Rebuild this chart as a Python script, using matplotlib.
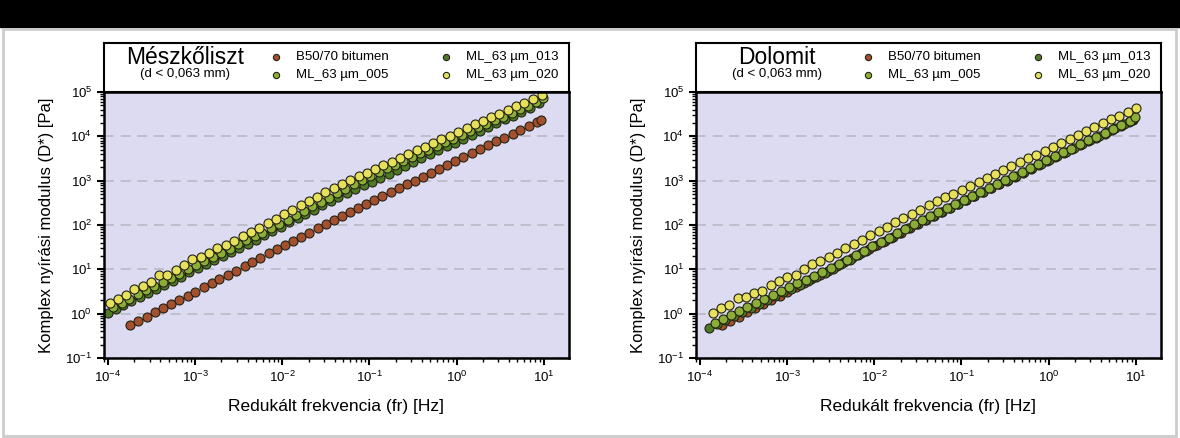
import matplotlib
matplotlib.use('Agg')
from matplotlib import pyplot as plt
from matplotlib.patches import Rectangle

plt.rcParams['font.family'] = ['Liberation Sans', 'DejaVu Sans']
plt.rcParams['mathtext.default'] = 'regular'

# ---- data (frekvencia [Hz], D* [Pa]) ----
# B50/70 bitumen (ugyanaz a minta mindket panelen)
f_bit = [1.8e-4, 2.2e-4, 2.8e-4, 3.5e-4, 4.3e-4, 5.3e-4, 6.6e-4, 8.2e-4, 1.0e-3, 1.25e-3,
         1.55e-3, 1.9e-3, 2.4e-3, 2.95e-3, 3.7e-3, 4.5e-3, 5.6e-3, 7.0e-3, 8.7e-3, 1.08e-2,
         1.34e-2, 1.66e-2, 2.05e-2, 2.55e-2, 3.15e-2, 3.9e-2, 4.85e-2, 6.0e-2, 7.4e-2, 9.2e-2,
         0.114, 0.141, 0.175, 0.217, 0.27, 0.33, 0.41, 0.51, 0.63, 0.78,
         0.97, 1.2, 1.49, 1.85, 2.3, 2.85, 3.5, 4.4, 5.4, 6.7, 8.3, 9.3]
d_bit = [0.55, 0.67, 0.85, 1.07, 1.32, 1.63, 2.04, 2.55, 3.1, 3.9,
         4.9, 6.0, 7.6, 9.4, 12.0, 14.4, 18.3, 22.8, 28.4, 35.3,
         43.8, 54.5, 67.6, 84, 104, 129, 161, 198, 242, 297,
         364, 445, 545, 668, 820, 1000, 1230, 1510, 1850, 2250,
         2760, 3380, 4150, 5100, 6250, 7650, 9300, 11500, 14000, 17200, 21000, 23500]

# Meszkoliszt
f_m020 = [1.05e-4, 1.3e-4, 1.6e-4, 2.0e-4, 2.5e-4, 3.1e-4, 3.9e-4, 4.8e-4, 6.0e-4, 7.5e-4,
          9.3e-4, 1.16e-3, 1.45e-3, 1.8e-3, 2.25e-3, 2.8e-3, 3.5e-3, 4.35e-3, 5.4e-3, 6.8e-3,
          8.4e-3, 1.05e-2, 1.3e-2, 1.62e-2, 2.0e-2, 2.5e-2, 3.1e-2, 3.9e-2, 4.8e-2, 6.0e-2,
          7.5e-2, 9.3e-2, 0.116, 0.144, 0.18, 0.224, 0.28, 0.35, 0.43, 0.54,
          0.67, 0.84, 1.04, 1.3, 1.62, 2.0, 2.5, 3.1, 3.9, 4.8, 6.0, 7.5, 9.6]
d_m020 = [1.74, 2.15, 2.65, 3.6, 4.1, 5.1, 7.3, 7.4, 9.8, 12.3,
          17, 19, 23.6, 31, 36, 43, 56, 69, 87, 111,
          138, 175, 219, 277, 345, 437, 547, 697, 850, 1030,
          1250, 1510, 1830, 2220, 2690, 3250, 3950, 4800, 5750, 7000,
          8500, 10300, 12500, 15200, 18500, 22300, 27000, 32500, 39500, 47500, 57500, 70000, 87000]

f_m005 = [1.15e-4, 1.43e-4, 1.76e-4, 2.2e-4, 2.75e-4, 3.4e-4, 4.3e-4, 5.3e-4, 6.6e-4, 8.2e-4,
          1.02e-3, 1.28e-3, 1.6e-3, 2.0e-3, 2.5e-3, 3.1e-3, 3.85e-3, 4.8e-3, 5.9e-3, 7.5e-3,
          9.2e-3, 1.15e-2, 1.43e-2, 1.78e-2, 2.2e-2, 2.75e-2, 3.4e-2, 4.3e-2, 5.3e-2, 6.6e-2,
          8.2e-2, 0.102, 0.128, 0.158, 0.198, 0.246, 0.31, 0.385, 0.47, 0.59,
          0.74, 0.92, 1.14, 1.43, 1.78, 2.2, 2.75, 3.4, 4.3, 5.3, 6.6, 8.2, 9.9]
d_m005 = [1.43, 1.76, 2.17, 2.71, 3.36, 4.18, 5.25, 6.48, 8.04, 10.1,
          12.5, 15.6, 19.4, 23.8, 29.5, 36.9, 45.9, 56.6, 66, 84,
          105, 133, 166, 211, 262, 332, 416, 530, 646, 824,
          1025, 1268, 1556, 1909, 2313, 2795, 3397, 4128, 4945, 6020,
          7310, 8858, 10750, 13070, 15910, 19180, 23220, 27950, 33970, 40850, 49450, 60000, 72000]

f_m013 = [1.0e-4, 1.22e-4, 1.5e-4, 1.85e-4, 2.3e-4, 2.85e-4, 3.6e-4, 4.45e-4, 5.5e-4, 6.9e-4,
          8.6e-4, 1.07e-3, 1.33e-3, 1.66e-3, 2.07e-3, 2.6e-3, 3.2e-3, 4.0e-3, 5.0e-3, 6.25e-3,
          7.7e-3, 9.7e-3, 1.2e-2, 1.5e-2, 1.84e-2, 2.3e-2, 2.85e-2, 3.6e-2, 4.4e-2, 5.5e-2,
          6.9e-2, 8.6e-2, 0.107, 0.132, 0.166, 0.206, 0.258, 0.32, 0.395, 0.5,
          0.62, 0.77, 0.96, 1.2, 1.49, 1.84, 2.3, 2.85, 3.6, 4.4, 5.5, 6.9, 8.8]
d_m013 = [1.01, 1.25, 1.54, 1.9, 2.36, 2.91, 3.65, 4.46, 5.54, 6.89,
          8.51, 10.5, 13.1, 16, 19.8, 24.5, 30.5, 37.3, 46.5, 58.8,
          73.1, 91.9, 114, 143, 176, 223, 276, 349, 425, 520,
          638, 778, 952, 1177, 1439, 1755, 2153, 2640, 3220, 3955,
          4845, 5923, 7250, 8892, 10915, 13380, 16335, 19825, 24290, 29450, 36225, 44450, 55680]

# Dolomit
f_d020 = [1.4e-4, 1.75e-4, 2.15e-4, 2.7e-4, 3.35e-4, 4.2e-4, 5.2e-4, 6.5e-4, 8.1e-4, 1.0e-3,
          1.25e-3, 1.56e-3, 1.94e-3, 2.4e-3, 3.0e-3, 3.75e-3, 4.65e-3, 5.8e-3, 7.2e-3, 9.0e-3,
          1.12e-2, 1.4e-2, 1.74e-2, 2.16e-2, 2.7e-2, 3.35e-2, 4.2e-2, 5.2e-2, 6.5e-2, 8.1e-2,
          0.101, 0.126, 0.157, 0.195, 0.243, 0.3, 0.375, 0.47, 0.58, 0.72,
          0.9, 1.12, 1.4, 1.74, 2.16, 2.7, 3.35, 4.2, 5.2, 6.5, 8.1, 10.0]
d_d020 = [1.04, 1.35, 1.57, 2.2, 2.39, 2.94, 3.2, 4.47, 5.5, 6.78,
          7.6, 10.3, 13.5, 15.6, 19.2, 23.7, 29.7, 37.1, 46.5, 58.2,
          72.8, 91.2, 114, 143, 179, 223, 279, 342, 419, 513,
          628, 769, 940, 1150, 1410, 1725, 2110, 2590, 3170, 3880,
          4750, 5820, 7120, 8710, 10700, 13100, 16000, 19600, 24000, 29400, 36000, 44000]

f_d005 = [1.47e-4, 1.84e-4, 2.26e-4, 2.84e-4, 3.5e-4, 4.4e-4, 5.45e-4, 6.8e-4, 8.5e-4, 1.05e-3,
          1.31e-3, 1.64e-3, 2.04e-3, 2.52e-3, 3.15e-3, 3.95e-3, 4.9e-3, 6.1e-3, 7.6e-3, 9.45e-3,
          1.18e-2, 1.47e-2, 1.83e-2, 2.27e-2, 2.84e-2, 3.5e-2, 4.4e-2, 5.45e-2, 6.8e-2, 8.5e-2,
          0.106, 0.132, 0.165, 0.205, 0.255, 0.315, 0.394, 0.49, 0.61, 0.76,
          0.945, 1.18, 1.47, 1.83, 2.27, 2.84, 3.5, 4.4, 5.45, 6.8, 8.5, 9.8]
d_d005 = [0.62, 0.77, 0.94, 1.16, 1.42, 1.73, 2.14, 2.61, 3.19, 3.93,
          4.8, 5.87, 7.24, 8.81, 10.8, 13.3, 16.6, 20.8, 26.3, 32.9,
          41.5, 52, 65.6, 82.2, 104, 129, 163, 200, 247, 303,
          371, 458, 559, 690, 846, 1035, 1266, 1567, 1918, 2347,
          2898, 3550, 4343, 5313, 6581, 8057, 9840, 12150, 14880, 18230, 22320, 27280]

f_d013 = [1.26e-4, 1.58e-4, 1.94e-4, 2.43e-4, 3.0e-4, 3.8e-4, 4.7e-4, 5.85e-4, 7.3e-4, 9.0e-4,
          1.12e-3, 1.4e-3, 1.75e-3, 2.16e-3, 2.7e-3, 3.4e-3, 4.2e-3, 5.2e-3, 6.5e-3, 8.1e-3,
          1.0e-2, 1.26e-2, 1.57e-2, 1.94e-2, 2.43e-2, 3.0e-2, 3.8e-2, 4.7e-2, 5.85e-2, 7.3e-2,
          9.1e-2, 0.113, 0.141, 0.176, 0.219, 0.27, 0.34, 0.42, 0.52, 0.65,
          0.81, 1.0, 1.26, 1.57, 1.94, 2.43, 3.0, 3.8, 4.7, 5.85, 7.3, 9.0]
d_d013 = [0.48, 0.59, 0.72, 0.885, 1.085, 1.33, 1.63, 2.0, 2.45, 3.01,
          3.69, 4.53, 5.56, 6.8, 8.31, 10.2, 12.9, 16.2, 20.6, 26,
          32.8, 41.4, 52.2, 66.1, 83.4, 104, 131, 161, 199, 245,
          301, 371, 456, 560, 691, 849, 1044, 1287, 1585, 1948,
          2399, 2951, 3631, 4460, 5511, 6773, 8320, 10230, 12600, 15490, 19080, 23320]

labels = ['B50/70 bitumen', 'ML_63 µm_005', 'ML_63 µm_013', 'ML_63 µm_020']
colors = ['#a4502e', '#8dae36', '#4e7a26', '#e6e05a']

panels = [
    ('Mészkőliszt', [(f_bit, d_bit), (f_m005, d_m005), (f_m013, d_m013), (f_m020, d_m020)]),
    ('Dolomit', [(f_bit, d_bit), (f_d005, d_d005), (f_d013, d_d013), (f_d020, d_d020)]),
]
draw_order = [0, 2, 1, 3]   # bitumen, 013, 005, 020

W, H = 1180, 438
fig = plt.figure(figsize=(W / 100, H / 100), dpi=100)
fig.patches.append(Rectangle((0, 1 - 27 / H), 1, 27 / H, transform=fig.transFigure,
                             color='black', zorder=0))
fig.patches.append(Rectangle((3 / W, 2 / H), 1173 / W, 407 / H, transform=fig.transFigure,
                             facecolor='none', edgecolor='#cccccc', lw=2, zorder=0))

lefts = [104, 696]
for (title, series), left in zip(panels, lefts):
    ax = fig.add_axes([left / W, 80 / H, 465 / W, 266 / H])
    ax.set_facecolor('#dddbf1')
    for i in draw_order:
        f, d = series[i]
        ax.plot(f, d, 'o', ms=6.5, mfc=colors[i], mec='#222214', mew=0.8, ls='none')
    ax.set_xscale('log')
    ax.set_yscale('log')
    ax.set_xlim(9e-5, 19.5)
    ax.set_ylim(0.1, 1e5)
    ax.yaxis.grid(True, which='major', ls=(0, (6, 4)), color='#b9b9c6', lw=1.2)
    ax.set_axisbelow(True)
    for s in ax.spines.values():
        s.set_linewidth(1.8)
    ax.tick_params(which='major', direction='out', length=5, width=1.5, labelsize=9.5)
    ax.tick_params(which='minor', direction='out', length=3, width=1.0)
    ax.set_xticks([1e-4, 1e-3, 1e-2, 1e-1, 1e0, 1e1])
    ax.set_yticks([1e-1, 1e0, 1e1, 1e2, 1e3, 1e4, 1e5])
    ax.set_xlabel('Redukált frekvencia (fr) [Hz]', fontsize=12.5, labelpad=10)
    ax.set_ylabel('Komplex nyírási modulus (D*) [Pa]', fontsize=12, labelpad=8)

    # fejlec doboz a grafikon folott
    lax = fig.add_axes([left / W, 346 / H, 465 / W, 49 / H])
    lax.set_xlim(0, 465)
    lax.set_ylim(49, 0)
    lax.set_xticks([])
    lax.set_yticks([])
    for s in lax.spines.values():
        s.set_linewidth(1.5)
    lax.text(81, 15, title, fontsize=16.5, ha='center', va='center')
    lax.text(81, 31, '(d < 0,063 mm)', fontsize=9.5, ha='center', va='center')
    pos = [(172, 14), (172, 32), (342, 14), (342, 32)]
    for (px, py), lab, c in zip(pos, labels, colors):
        lax.plot(px, py, 'o', ms=4.5, mfc=c, mec='#222214', mew=0.8)
        lax.text(px + 20, py, lab, fontsize=9.5, va='center')

plt.savefig('out.png', dpi=100)
